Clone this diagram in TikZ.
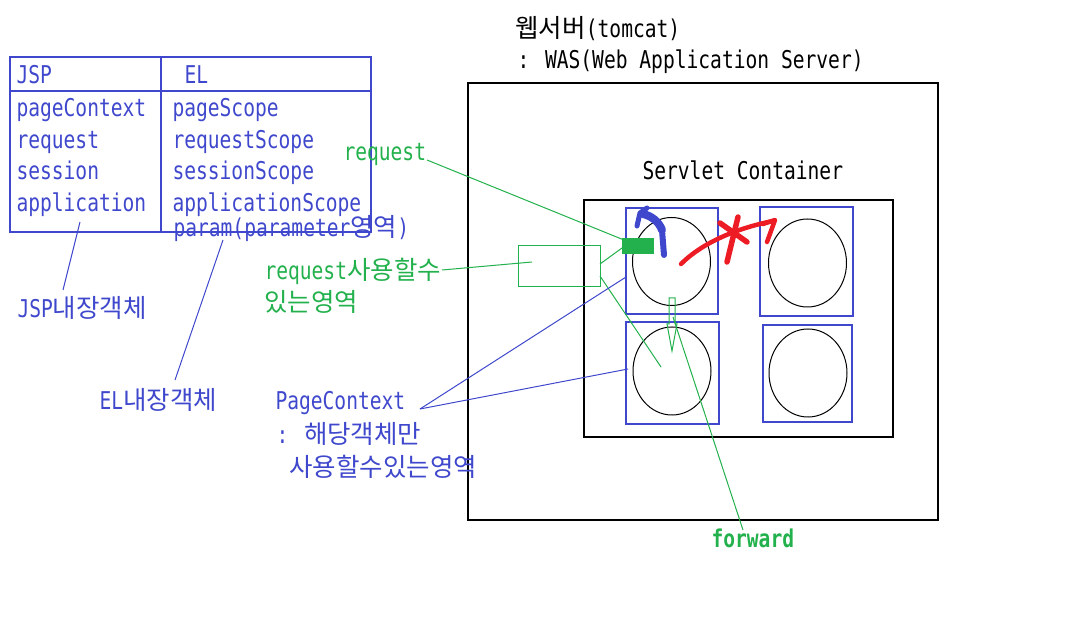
\documentclass[tikz,border=0pt]{standalone}
\usepackage{fontspec}
\setmainfont{DejaVu Sans Mono}[FakeStretch=0.8]
\newfontfamily\krfont{Noto Sans CJK KR}
\newcommand{\kor}[1]{{\krfont\fontsize{25.5}{30}\selectfont #1}}
\definecolor{pblue}{HTML}{3F48CC}
\definecolor{pgreen}{HTML}{22B14C}
\definecolor{pred}{HTML}{ED1C24}
\tikzset{
  txt/.style={anchor=base west, inner sep=0pt, font=\fontsize{24.5}{30}\selectfont},
  btxt/.style={txt, text=pblue},
  gtxt/.style={txt, text=pgreen},
  jspbox/.style={draw=pblue, line width=1.2},
}
\begin{document}
\begin{tikzpicture}[x=1pt,y=-1pt,line width=1]
\useasboundingbox (0,0) rectangle (1072,620);
%\draw[step=50,gray,very thin] (0,0) grid (1072,620);
% table JSP / EL
\draw[jspbox] (10,57) rectangle (371,232);
\draw[pblue, line width=1.2] (10,91) -- (371,91);
\draw[pblue, line width=1.2] (161,57) -- (161,232);
\node[btxt] (jsp) at (16,84) {JSP};
\node[btxt] (el) at (184,84) {EL};
\node[btxt] (pagectx) at (16,117) {pageContext};
\node[btxt] (req) at (16,149) {request};
\node[btxt] (sess) at (16,180) {session};
\node[btxt] (app) at (16,212) {application};
\node[btxt] (pagesc) at (172,117) {pageScope};
\node[btxt] (reqsc) at (172,149) {requestScope};
\node[btxt] (sesssc) at (172,180) {sessionScope};
\node[btxt] (appsc) at (172,212) {applicationScope};
\node[btxt] (param) at (173,237) {param(parameter\kor{영역})};
% labels under the table
\node[btxt] (jspobj) at (17,318) {JSP\kor{내장객체}};
\node[btxt] (elobj) at (99,410) {EL\kor{내장객체}};
\coordinate (jsptop) at (80,222);
\coordinate (jspbot) at (63,290);
\coordinate (eltop) at (223,240);
\coordinate (elbot) at (175,380);
\draw[pblue] (jsptop) -- (jspbot);
\draw[pblue] (eltop) -- (elbot);
% web server
\node[txt] (websrv) at (515,38) {\kor{웹서버}(tomcat)};
\node[txt] (was) at (517,69) {: WAS(Web Application Server)};
\draw[line width=1.3] (468,83) rectangle (938,520);
\node[txt] (sc) at (642,180) {Servlet Container};
\draw[line width=1.3] (584,200) rectangle (893,437);
% four servlets
\draw[jspbox] (626,208) rectangle (718,314);
\draw (671.5,261.5) ellipse (39 and 44);
\draw[jspbox] (760,207) rectangle (853,316);
\draw (807.5,263) ellipse (39 and 44);
\draw[jspbox] (626,322) rectangle (719,424);
\draw (672,371) ellipse (39 and 44);
\draw[jspbox] (763,325) rectangle (852,422);
\draw (808,373) ellipse (39 and 44);
% request
\node[gtxt] (reqlbl) at (343,161) {request};
\fill[pgreen] (622,238) rectangle (654,254);
\coordinate (reqend) at (427,160);
\coordinate (reqbox) at (624,240);
\draw[pgreen] (reqend) -- (reqbox);
\node[gtxt] (requse) at (264,280) {request\kor{사용할수}};
\node[gtxt] (reqarea) at (264,312) {\kor{있는영역}};
\draw[pgreen] (518,246) rectangle (600,287);
\coordinate (usetip) at (442,270);
\coordinate (usein) at (532,262);
\draw[pgreen] (usetip) -- (usein);
\draw[pgreen] (600,264) -- (622,248);
\draw[pgreen] (600,276) -- (661,367);
% page context
\node[btxt] (pc) at (275,410) {PageContext};
\node[btxt] (pc2) at (276,444) {: \kor{해당객체만}};
\node[btxt] (pc3) at (289,476) {\kor{사용할수있는영역}};
\coordinate (pcend) at (420,409);
\draw[pblue] (pcend) -- (626,277);
\draw[pblue] (pcend) -- (628,369);
% forward
\draw[pgreen] (669,298) -- (675,298) -- (675,324) -- (677,324) -- (672,351)
  -- (667,324) -- (669,324) -- cycle;
\node[gtxt, font=\fontsize{24.5}{30}\selectfont\bfseries] (fwd) at (711,547) {forward};
\coordinate (fwdstart) at (673,317);
\coordinate (fwdend) at (743,530);
\draw[pgreen] (fwdstart) -- (fwdend);
% blue hook
\draw[pblue, line width=8, line cap=round] (662,230) .. controls (659,222) and (652,216) .. (643,214);
\draw[pblue, line width=6, line cap=round] (664,255) -- (662,230);
\draw[pblue, line width=5, line cap=round, line join=round] (637,226) -- (640,213) -- (647,208);
% red arrow and cross
\draw[pred, line width=4.5, line cap=round] (681,264) .. controls (703,242) and (738,228) .. (773,221);
\draw[pred, line width=4.5, line cap=round, line join=round] (763,224) -- (775,220) -- (767,242);
\draw[pred, line width=5.5, line cap=round] (720,223) -- (747,242);
\draw[pred, line width=5.5, line cap=round] (738,217) -- (727,262);
\end{tikzpicture}
\end{document}
